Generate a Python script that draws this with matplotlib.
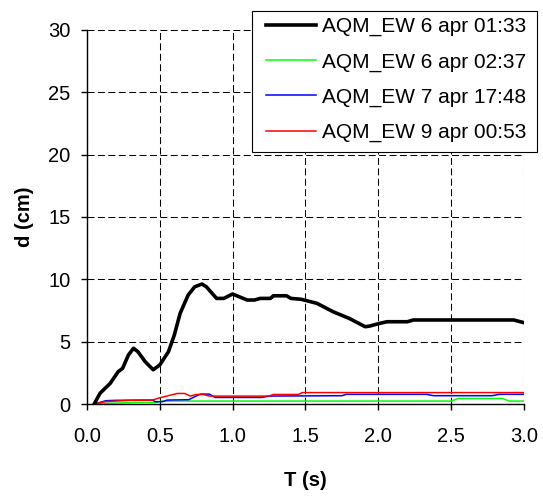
import matplotlib
matplotlib.use('Agg')
import matplotlib.pyplot as plt
from matplotlib.patches import Rectangle

plt.rcParams['font.family'] = ['Liberation Sans', 'DejaVu Sans']
plt.rcParams['lines.scale_dashes'] = False

# period T (s) and displacement d (cm)
t_black = [0.05, 0.09, 0.16, 0.215, 0.245, 0.285, 0.32, 0.35, 0.40, 0.455, 0.50, 0.56,
           0.60, 0.64, 0.695, 0.74, 0.79, 0.82, 0.89, 0.94, 1.00, 1.10, 1.15, 1.19,
           1.26, 1.28, 1.37, 1.40, 1.47, 1.58, 1.69, 1.80, 1.91, 1.94, 2.01, 2.06,
           2.20, 2.24, 2.93, 3.00]
d_black = [0.0, 0.86, 1.66, 2.6, 2.86, 3.93, 4.47, 4.2, 3.4, 2.75, 3.13, 4.2,
           5.53, 7.27, 8.74, 9.4, 9.62, 9.4, 8.47, 8.47, 8.82, 8.34, 8.34, 8.47,
           8.47, 8.68, 8.68, 8.47, 8.4, 8.07, 7.4, 6.87, 6.2, 6.25, 6.47, 6.6,
           6.6, 6.74, 6.74, 6.52]

t_green = [0.05, 0.10, 0.27, 0.34, 0.47, 0.52, 2.50, 2.55, 2.85, 2.90, 3.0]
d_green = [0.0, 0.05, 0.1, 0.13, 0.13, 0.24, 0.24, 0.45, 0.45, 0.24, 0.24]

t_blue = [0.05, 0.13, 0.20, 0.45, 0.47, 0.52, 0.55, 0.70, 0.74, 0.78, 0.84, 0.88,
          1.20, 1.25, 1.75, 1.78, 2.33, 2.38, 2.78, 2.83, 3.0]
d_blue = [0.0, 0.27, 0.3, 0.32, 0.19, 0.19, 0.32, 0.35, 0.59, 0.8, 0.8, 0.53,
          0.53, 0.64, 0.67, 0.78, 0.78, 0.67, 0.67, 0.78, 0.78]

t_red = [0.05, 0.13, 0.30, 0.45, 0.50, 0.62, 0.67, 0.71, 0.75, 0.80, 0.84, 1.25,
         1.28, 1.45, 1.48, 3.0]
d_red = [0.0, 0.2, 0.3, 0.32, 0.5, 0.85, 0.85, 0.64, 0.77, 0.77, 0.64, 0.64,
         0.77, 0.77, 0.92, 0.92]

labels = ['AQM_EW 6 apr 01:33', 'AQM_EW 6 apr 02:37',
          'AQM_EW 7 apr 17:48', 'AQM_EW 9 apr 00:53']

W, H = 543, 497
fig = plt.figure(figsize=(W / 100, H / 100), dpi=100)
ax = fig.add_axes([0.160, 0.187, 0.805, 0.753])

l2, = ax.plot(t_green, d_green, color='#00FF00', lw=1.1, label=labels[1])
l3, = ax.plot(t_blue, d_blue, color='#0000FF', lw=1.1, label=labels[2])
l4, = ax.plot(t_red, d_red, color='#FF0000', lw=1.1, label=labels[3])
l1, = ax.plot(t_black, d_black, color='black', lw=2.6, label=labels[0])

ax.set_xlim(0, 3.0)
ax.set_ylim(0, 30)
ax.set_xticks([0.0, 0.5, 1.0, 1.5, 2.0, 2.5, 3.0])
ax.set_xticklabels(['0.0', '0.5', '1.0', '1.5', '2.0', '2.5', '3.0'])
ax.set_yticks([0, 5, 10, 15, 20, 25, 30])
ax.grid(True, color='black', linestyle=(0, (5, 2.5)), lw=0.75)
ax.set_axisbelow(True)
for s in ['top', 'right']:
    ax.spines[s].set_visible(False)
ax.spines['left'].set_linewidth(1.0)
ax.spines['bottom'].set_linewidth(1.0)
ax.tick_params(direction='out', length=4.3, width=1.0, labelsize=14.5)
ax.tick_params(axis='x', pad=12)
ax.tick_params(axis='y', pad=7.5)

ax.set_xlabel('T (s)', fontsize=14.5, fontweight='bold', labelpad=18)
ax.set_ylabel('d (cm)', fontsize=14.5, fontweight='bold', labelpad=10.5)

# legend box (wider side padding than matplotlib's uniform borderpad)
box = Rectangle((251.7 / W, 1 - 151.7 / H), 285 / W, 141 / H,
                transform=fig.transFigure, facecolor='white',
                edgecolor='black', lw=0.8, zorder=4)
fig.add_artist(box)

leg = fig.legend(handles=[l1, l2, l3, l4], labels=labels,
                 loc='upper left', bbox_to_anchor=(266 / W, 1 - 17 / H),
                 bbox_transform=fig.transFigure, fontsize=15, frameon=False,
                 handlelength=2.4, handletextpad=0.29, borderpad=0,
                 labelspacing=0.77, borderaxespad=0)
leg.set_zorder(5)

fig.savefig('out.png', dpi=100)
